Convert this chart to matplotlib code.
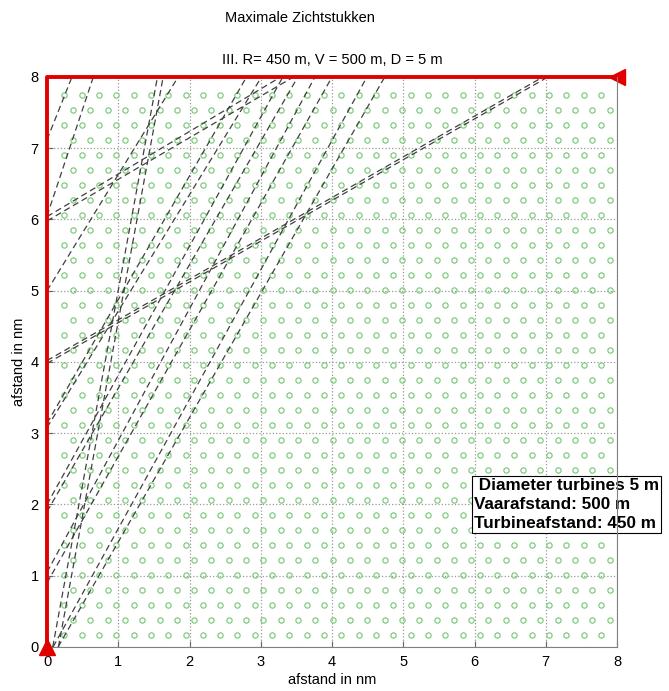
import matplotlib.pyplot as plt
import numpy as np

plt.rcParams['font.family'] = ['Liberation Sans', 'DejaVu Sans']

# turbine field (hex pattern), spacing 450 m in nm
spacing = 450 / 1852.0
row_h = spacing * np.sqrt(3) / 2
y_first = 0.165
n_rows = 37
k_even = np.arange(1, 33)          # rows at k*spacing
k_odd = np.arange(1, 33) + 0.5     # shifted rows

# sight lines (x0, y0, x1, y1) in nm
sight_lines = [
    (0.085, 0.00, 4.49, 8.0),
    (0.155, 0.00, 4.74, 8.0),
    (0.00, 0.90, 4.00, 8.0),
    (0.00, 1.05, 3.76, 8.0),
    (0.00, 1.90, 3.52, 8.0),
    (0.00, 2.00, 3.31, 8.0),
    (0.00, 3.08, 3.01, 8.0),
    (0.00, 3.14, 2.80, 8.0),
    (0.00, 3.98, 7.03, 8.0),
    (0.00, 4.02, 6.96, 8.0),
    (0.00, 5.98, 3.46, 8.0),
    (0.00, 6.04, 3.28, 8.0),
    (0.08, 0.00, 1.55, 8.0),
    (0.16, 0.00, 1.63, 8.0),
    (0.00, 5.00, 1.84, 8.0),
    (0.00, 6.05, 0.65, 8.0),
    (0.00, 7.12, 0.35, 8.0),
]

ticks = list(range(0, 9))

fig = plt.figure(figsize=(6.69, 6.91), dpi=100)
ax = fig.add_axes([0.0703, 0.0637, 0.8520, 0.8249])

# turbines
for j in range(n_rows):
    yy = y_first + j * row_h
    ks = k_even if j % 2 == 0 else k_odd
    ax.plot(ks * spacing, np.full(len(ks), yy), 'o', ms=3.8, mfc='none',
            mec='#80cc80', mew=0.9, zorder=2)

for x0, y0, x1, y1 in sight_lines:
    ax.plot([x0, x1], [y0, y1], '--', color='0.25', lw=0.9,
            dashes=(5, 3), zorder=3)

# red boundary
ax.plot([0, 0, 8], [0, 8, 8], color='#e00000', lw=2.8, zorder=5,
        clip_on=False, solid_capstyle='butt')
ax.plot([0], [0], '^', color='#e00000', ms=11, clip_on=False, zorder=6)
ax.plot([8], [8], '<', color='#e00000', ms=11, clip_on=False, zorder=6)

ax.set_xlim(0, 8)
ax.set_ylim(0, 8)
ax.set_xticks(ticks)
ax.set_yticks(ticks)
ax.grid(True, linestyle=':', color='0.6', lw=0.9)
ax.set_axisbelow(True)
ax.tick_params(direction='in', length=4, labelsize=10.5, color='0.4', pad=6)
for s in ['bottom', 'right']:
    ax.spines[s].set_color('0.5')
ax.spines['top'].set_visible(False)
ax.spines['left'].set_visible(False)
ax.spines['right'].set_zorder(10)

ax.set_xlabel('afstand in nm', fontsize=10.5, labelpad=3)
ax.set_ylabel('afstand in nm', fontsize=10.5, labelpad=3)
ax.set_title('III. R= 450 m, V = 500 m, D = 5 m', fontsize=10.5, pad=9)
fig.text(300 / 669, 1 - 18 / 691, 'Maximale Zichtstukken', fontsize=10.5,
         ha='center', va='center')

ax.text(5.99, 2.0, ' Diameter turbines 5 m\nVaarafstand: 500 m\nTurbineafstand: 450 m',
        fontsize=12.3, fontweight='bold', ha='left', va='center',
        linespacing=1.3, clip_on=False, zorder=8,
        bbox=dict(boxstyle='square,pad=0.12', fc='white', ec='black', lw=0.8))

fig.savefig('out.png', dpi=100)
